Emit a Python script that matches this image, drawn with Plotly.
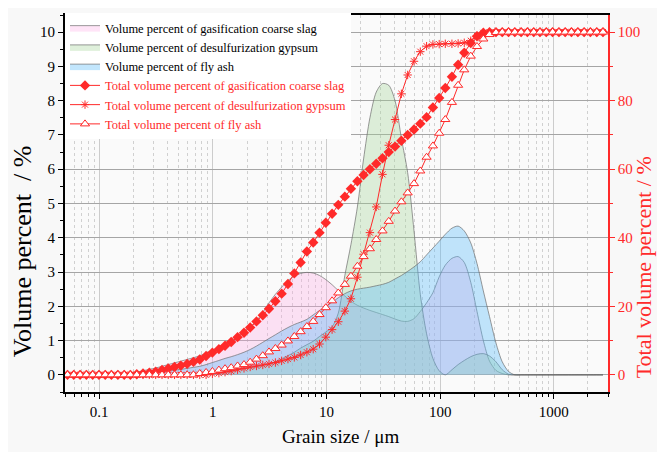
import plotly.graph_objects as go

# Grain size classes (um)
size_um = [0.0526, 0.0597, 0.0679, 0.0771, 0.0876, 0.0995, 0.113, 0.128, 0.146, 0.166,
           0.188, 0.214, 0.243, 0.276, 0.314, 0.357, 0.405, 0.460, 0.523, 0.594,
           0.675, 0.767, 0.872, 0.991, 1.13, 1.28, 1.45, 1.65, 1.88, 2.13,
           2.42, 2.75, 3.12, 3.55, 4.03, 4.58, 5.21, 5.92, 6.72, 7.64,
           8.68, 9.86, 11.2, 12.7, 14.5, 16.4, 18.7, 21.2, 24.1, 27.4,
           31.1, 35.3, 40.1, 45.6, 51.8, 58.9, 66.9, 76.0, 86.4, 98.1,
           111, 127, 144, 163, 186, 211, 240, 272, 310, 352,
           400, 454, 516, 586, 666, 756, 859, 976, 1110, 1260,
           1430, 1630, 1850, 2100, 2390, 2710]

# Volume percent (differential), %
slag_vol = [0, 0, 0, 0, 0, 0, 0, 0, 0, 0.02,
            0.05, 0.08, 0.12, 0.16, 0.2, 0.25, 0.3, 0.35, 0.4, 0.45,
            0.5, 0.56, 0.63, 0.72, 0.82, 0.93, 1.04, 1.15, 1.26, 1.4,
            1.58, 1.82, 2.1, 2.35, 2.56, 2.75, 2.88, 2.96, 2.99, 2.97,
            2.9, 2.78, 2.63, 2.46, 2.3, 2.15, 2.03, 1.95, 1.88, 1.82,
            1.76, 1.7, 1.63, 1.57, 1.56, 1.64, 1.85, 2.1, 2.4, 2.86,
            3.2, 3.4, 3.45, 3.28, 2.7, 1.85, 1.0, 0.4, 0.13, 0.04,
            0, 0, 0, 0, 0, 0, 0, 0, 0, 0,
            0, 0, 0, 0, 0, 0]
gypsum_vol = [0, 0, 0, 0, 0, 0, 0, 0, 0, 0,
              0, 0, 0, 0, 0, 0, 0, 0, 0, 0,
              0, 0, 0.02, 0.05, 0.08, 0.11, 0.14, 0.17, 0.19, 0.22,
              0.25, 0.28, 0.32, 0.38, 0.47, 0.56, 0.66, 0.78, 0.88, 0.98,
              1.12, 1.25, 1.4, 1.8, 2.9, 3.8, 4.9, 6.3, 7.5, 8.25,
              8.5, 8.45, 8.0, 6.9, 5.9, 4.2, 2.35, 1.2, 0.48, 0.12,
              0.0, 0.15, 0.3, 0.42, 0.53, 0.6, 0.62, 0.55, 0.38, 0.15,
              0.02, 0, 0, 0, 0, 0, 0, 0, 0, 0,
              0, 0, 0, 0, 0, 0]
flyash_vol = [0, 0, 0, 0, 0, 0, 0, 0, 0, 0,
              0, 0, 0.02, 0.05, 0.08, 0.1, 0.12, 0.14, 0.16, 0.19,
              0.22, 0.25, 0.3, 0.36, 0.42, 0.48, 0.53, 0.59, 0.66, 0.74,
              0.84, 0.95, 1.06, 1.17, 1.28, 1.38, 1.47, 1.54, 1.62, 1.75,
              1.88, 2.0, 2.12, 2.25, 2.37, 2.45, 2.5, 2.53, 2.56, 2.6,
              2.64, 2.7, 2.8, 2.9, 3.02, 3.15, 3.3, 3.5, 3.7, 3.9,
              4.1, 4.28, 4.34, 4.2, 3.85, 3.25, 2.45, 1.7, 0.93, 0.38,
              0.1, 0, 0, 0, 0, 0, 0, 0, 0, 0,
              0, 0, 0, 0, 0, 0]

# Total (cumulative) volume percent, %
slag_cum = [0, 0, 0, 0, 0, 0, 0, 0, 0, 0,
            0, 0.2, 0.4, 0.6, 0.95, 1.4, 1.85, 2.3, 2.7, 3.2,
            3.8, 4.5, 5.5, 6.5, 7.5, 8.5, 9.6, 11.0, 12.3, 13.8,
            15.6, 17.4, 19.3, 21.5, 23.7, 26.5, 29.6, 32.8, 36.0, 38.6,
            41.5, 44.4, 47.0, 49.6, 52.0, 54.3, 56.5, 58.3, 60.0, 61.6,
            63.2, 65.0, 66.6, 68.3, 70.0, 71.6, 73.3, 75.2, 78.0, 80.8,
            83.7, 87.0, 90.5, 94.0, 96.8, 98.8, 99.8, 100, 100, 100,
            100, 100, 100, 100, 100, 100, 100, 100, 100, 100,
            100, 100, 100, 100, 100, 100]
gypsum_cum = [0, 0, 0, 0, 0, 0, 0, 0, 0, 0,
              0, 0, 0, 0, 0, 0, 0, 0, 0, 0,
              0, 0, 0, 0.3, 0.5, 0.8, 1.1, 1.5, 1.9, 2.3,
              2.6, 2.9, 3.2, 3.6, 4.1, 4.6, 5.1, 5.8, 6.6, 7.5,
              9.0, 11.0, 13.2, 15.5, 18.6, 22.2, 28.5, 35.2, 41.5, 49.0,
              58.5, 67.0, 74.5, 82.0, 87.5, 91.5, 94.3, 95.9, 96.4, 96.5,
              96.6, 96.6, 96.7, 96.9, 97.5, 98.9, 99.8, 100, 100, 100,
              100, 100, 100, 100, 100, 100, 100, 100, 100, 100,
              100, 100, 100, 100, 100, 100]
flyash_cum = [0, 0, 0, 0, 0, 0, 0, 0, 0, 0,
              0, 0, 0, 0, 0, 0, 0, 0, 0, 0,
              0, 0.4, 0.7, 1.0, 1.4, 1.8, 2.1, 2.6, 3.0, 3.7,
              4.6, 5.6, 6.7, 7.7, 8.7, 9.9, 11.2, 12.6, 14.1, 15.6,
              17.6, 19.6, 21.6, 23.9, 26.4, 28.8, 31.7, 34.5, 36.8, 39.5,
              42.0, 44.8, 47.8, 50.5, 53.1, 55.8, 59.5, 63.5, 66.8, 70.5,
              74.5, 79.5, 84.5, 89.0, 93.0, 95.8, 98.0, 99.3, 99.9, 100,
              100, 100, 100, 100, 100, 100, 100, 100, 100, 100,
              100, 100, 100, 100, 100, 100]

x_tickvals = [0.1, 1, 10, 100, 1000]
x_ticktext = ["0.1", "1", "10", "100", "1000"]
x_minor = [m * d for d in [0.01, 0.1, 1, 10, 100, 1000] for m in range(2, 10)]

RED = "#ff2a2a"
FONT = "Liberation Serif"
# page body has an 8px margin, so the figure is 8px smaller than the window
W, H = 657, 444
ML, MR, MT, MB = 57, 57, 6, 60
PW, PH = W - ML - MR, H - MT - MB


def px_x(px):
    return (px - ML) / PW


def px_y(py):
    return (H - MB - py) / PH


fig = go.Figure()

areas = [
    ("Volume percent of gasification coarse slag", slag_vol, "rgba(255,165,228,0.30)"),
    ("Volume percent of desulfurization gypsum", gypsum_vol, "rgba(160,212,150,0.34)"),
    ("Volume percent of fly ash", flyash_vol, "rgba(85,185,250,0.36)"),
]
for name, vals, col in areas:
    fig.add_trace(go.Scatter(
        x=size_um, y=vals, name=name, mode="lines",
        line=dict(color="rgba(105,105,105,0.85)", width=0.8, shape="spline", smoothing=0.8),
        fill="tozeroy", fillcolor=col, yaxis="y"))

cums = [
    ("Total volume percent of gasification coarse slag", slag_cum,
     dict(symbol="diamond", size=8, color=RED, line=dict(width=0))),
    ("Total volume percent of desulfurization gypsum", gypsum_cum,
     dict(symbol="asterisk-open", size=7, color=RED, line=dict(width=1, color=RED))),
    ("Total volume percent of fly ash", flyash_cum,
     dict(symbol="triangle-up", size=8, color="white", line=dict(width=1, color=RED))),
]
for name, vals, mk in cums:
    fig.add_trace(go.Scatter(
        x=size_um, y=vals, name="<span style='color:%s'>%s</span>" % (RED, name),
        mode="lines+markers", line=dict(color=RED, width=1), marker=mk, yaxis="y2"))

fig.update_layout(
    width=W, height=H,
    margin=dict(l=ML, r=MR, t=MT, b=MB),
    paper_bgcolor="#f8f8f8", plot_bgcolor="#fafafa",
    font=dict(family=FONT, size=15, color="black"),
    showlegend=True,
    legend=dict(x=0.0, y=px_y(5), xanchor="left", yanchor="top", bgcolor="white",
                borderwidth=0, font=dict(family=FONT, size=12.5, color="black"),
                tracegroupgap=0, itemwidth=30),
    xaxis=dict(type="log", range=[-1.30103, 3.47712],
               tickmode="array", tickvals=x_tickvals, ticktext=x_ticktext,
               ticks="outside", ticklen=5, tickwidth=1.2, tickcolor="black",
               showline=True, linecolor="black", linewidth=1.8, mirror=True,
               showgrid=True, gridcolor="#cccccc", gridwidth=1.2,
               minor=dict(tickmode="array", tickvals=x_minor, ticks="outside", ticklen=3,
                          tickcolor="black", showgrid=True, gridcolor="#d0d0d0",
                          griddash="3px,3px", gridwidth=1),
               zeroline=False, tickfont=dict(size=15)),
    yaxis=dict(range=[-0.5, 10.5], tickmode="linear", tick0=0, dtick=1,
               ticks="outside", ticklen=5, tickwidth=1.2, tickcolor="black",
               showline=True, linecolor="black", linewidth=1.8,
               showgrid=True, gridcolor="#a5a5a5", gridwidth=1,
               minor=dict(dtick=0.5, ticks="outside", ticklen=3, tickcolor="black", showgrid=False),
               zeroline=False, tickfont=dict(size=15)),
    yaxis2=dict(range=[-5, 105], overlaying="y", side="right", tickmode="linear", tick0=0, dtick=20,
                ticks="outside", ticklen=5, tickwidth=1.2, tickcolor=RED,
                showline=True, linecolor=RED, linewidth=1.5, showgrid=False, zeroline=False,
                minor=dict(dtick=10, ticks="outside", ticklen=3, tickcolor=RED),
                tickfont=dict(size=15, color=RED)),
    annotations=[
        dict(text="Volume percent  / %", xref="paper", yref="paper", x=px_x(14), y=px_y(243),
             xanchor="center", yanchor="middle",
             textangle=-90, showarrow=False, font=dict(family=FONT, size=26, color="black")),
        dict(text="Total volume percent / %", xref="paper", yref="paper", x=px_x(635), y=px_y(259),
             xanchor="center", yanchor="middle",
             textangle=-90, showarrow=False, font=dict(family=FONT, size=22, color=RED)),
        dict(text="Grain size / μm", xref="paper", yref="paper", x=px_x(333), y=px_y(429),
             xanchor="center", yanchor="middle",
             showarrow=False, font=dict(family=FONT, size=19, color="black")),
    ],
)

fig.write_html("out.html", default_width="%dpx" % W, default_height="%dpx" % H)
